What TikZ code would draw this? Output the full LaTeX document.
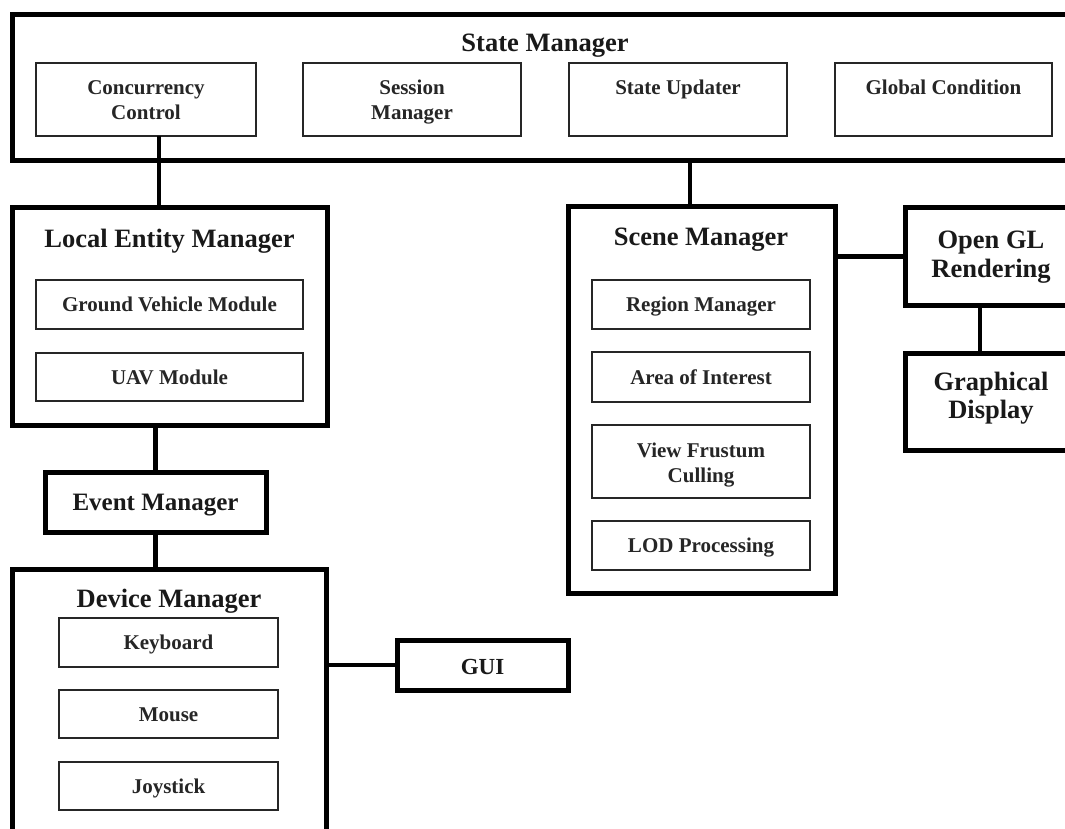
\documentclass[tikz,border=0pt]{standalone}
\usepackage{fontspec}
\setmainfont{Liberation Serif}
\usetikzlibrary{fit}

\tikzset{
  bigbox/.style={draw=black, line width=5pt, inner sep=0pt, outer sep=0pt, fill=none},
  subbox/.style={draw=black!85, line width=1.8pt, inner sep=0pt, outer sep=0pt},
  wire/.style={draw=black, line width=4.6pt},
  head/.style={anchor=base, inner sep=0pt, text=black!90, font=\fontsize{26.5}{30}\selectfont\bfseries},
  midhead/.style={anchor=base, inner sep=0pt, text=black!90, font=\fontsize{25}{29}\selectfont\bfseries},
  item/.style={anchor=base, inner sep=0pt, text=black!85, font=\fontsize{21}{25}\selectfont\bfseries},
}

\begin{document}
\begin{tikzpicture}[x=1pt, y=-1pt]
\useasboundingbox (0,0) rectangle (1065,829);
\clip (0,0) rectangle (1065,829);
\fill[white] (0,0) rectangle (1065,829);

% ---------------- State Manager ----------------
\node[bigbox, fit={(12,15) (1080,160.5)}] (state) {};
\node[head] (state-t) at (545,52) {State Manager};
\node[subbox, fit={(36,63) (256,136)}] (cc) {};
\node[item] (cc-t1) at (146,95) {Concurrency};
\node[item] (cc-t2) at (146,120) {Control};
\node[subbox, fit={(303,63) (521,136)}] (sess) {};
\node[item] (sess-t1) at (412,95) {Session};
\node[item] (sess-t2) at (412,120) {Manager};
\node[subbox, fit={(569,63) (787,136)}] (upd) {};
\node[item] (upd-t) at (678,95) {State Updater};
\node[subbox, fit={(835,63) (1052,136)}] (glob) {};
\node[item] (glob-t) at (943.5,95) {Global Condition};

% ---------------- Local Entity Manager ----------------
\node[bigbox, fit={(12,208) (327,425)}] (lem) {};
\node[head] (lem-t) at (169.5,247) {Local Entity Manager};
\node[subbox, fit={(36,280) (303,329)}] (gvm) {};
\node[item] (gvm-t) at (169.5,311.5) {Ground Vehicle Module};
\node[subbox, fit={(36,353) (303,401)}] (uav) {};
\node[item] (uav-t) at (169.5,384) {UAV Module};

% ---------------- Event Manager ----------------
\node[bigbox, fit={(45,472) (266,532)}] (em) {};
\node[midhead] (em-t) at (155.5,510) {Event Manager};

% ---------------- Device Manager ----------------
\node[bigbox, fit={(12,569.5) (326,836)}] (dm) {};
\node[head] (dm-t) at (169,607) {Device Manager};
\node[subbox, fit={(59,618) (278,667)}] (kbd) {};
\node[item] (kbd-t) at (168.5,649) {Keyboard};
\node[subbox, fit={(59,690) (278,738)}] (mouse) {};
\node[item] (mouse-t) at (168.5,721) {Mouse};
\node[subbox, fit={(59,762) (278,810)}] (joy) {};
\node[item] (joy-t) at (168.5,793) {Joystick};

% ---------------- GUI ----------------
\node[bigbox, fit={(397,640) (568,690)}] (gui) {};
\node[midhead, font=\fontsize{23}{27}\selectfont\bfseries] (gui-t) at (482.5,674) {GUI};

% ---------------- Scene Manager ----------------
\node[bigbox, fit={(568,207) (835,593)}] (scene) {};
\node[head] (scene-t) at (701,245) {Scene Manager};
\node[subbox, fit={(592,280) (810,329)}] (reg) {};
\node[item] (reg-t) at (701,311.5) {Region Manager};
\node[subbox, fit={(592,352) (810,402)}] (aoi) {};
\node[item] (aoi-t) at (701,384) {Area of Interest};
\node[subbox, fit={(592,425) (810,498)}] (vfc) {};
\node[item] (vfc-t1) at (701,457) {View Frustum};
\node[item] (vfc-t2) at (701,482) {Culling};
\node[subbox, fit={(592,521) (810,570)}] (lod) {};
\node[item] (lod-t) at (701,552.5) {LOD Processing};

% ---------------- Rendering side ----------------
\node[bigbox, fit={(905,208) (1077,305)}] (ogl) {};
\node[head] (ogl-t1) at (991,248) {Open GL};
\node[head] (ogl-t2) at (991,277) {Rendering};
\node[bigbox, fit={(905,353) (1077,450)}] (gd) {};
\node[head] (gd-t1) at (991,390) {Graphical};
\node[head] (gd-t2) at (991,418) {Display};

% ---------------- Connectors ----------------
\draw[wire] ([xshift=13pt]cc.south) -- ([xshift=13pt]cc.south |- lem.north);
\draw[wire] ([xshift=-11.5pt]scene.north) -- ([xshift=-11.5pt]scene.north |- state.south);
\draw[wire] (em.north) -- (em.north |- lem.south);
\draw[wire] (em.south) -- (em.south |- dm.north);
\draw[wire] (ogl.west) -- (ogl.west -| scene.east);
\draw[wire] ([xshift=-11pt]ogl.south) -- ([xshift=-11pt]ogl.south |- gd.north);
\draw[wire] (gui.west) -- (gui.west -| dm.east);
\end{tikzpicture}
\end{document}
